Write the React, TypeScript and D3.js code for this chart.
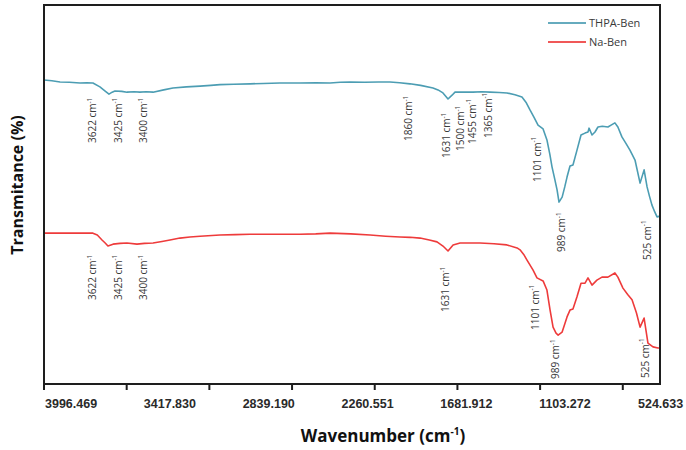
import React from "react";
import * as d3 from "d3";

// FTIR spectra: [wavenumber (cm-1), transmittance (%)]
const thpaBen: [number, number][] = [
  [3935, 80.2], [3890, 80.0], [3843, 79.7], [3790, 79.6], [3729, 79.4], [3690, 79.5],
  [3655, 79.4], [3615, 78.4], [3585, 77.3], [3563, 76.5], [3545, 77.0], [3529, 77.3],
  [3490, 77.2], [3460, 77.0], [3420, 77.1], [3386, 77.0], [3350, 77.1], [3311, 77.0],
  [3250, 77.6], [3197, 78.1], [3120, 78.4], [3042, 78.6], [2980, 78.8], [2928, 79.0],
  [2850, 79.1], [2756, 79.2], [2680, 79.3], [2585, 79.4], [2470, 79.4], [2380, 79.5],
  [2298, 79.4], [2240, 79.6], [2184, 79.7], [2100, 79.6], [2020, 79.7], [1955, 79.7],
  [1900, 79.5], [1841, 79.2], [1780, 78.8], [1709, 78.1], [1680, 77.6], [1652, 76.8],
  [1623, 75.2], [1600, 76.2], [1583, 77.0], [1530, 77.0], [1480, 77.0], [1430, 77.1],
  [1383, 77.0], [1330, 76.9], [1286, 76.8], [1240, 76.3], [1200, 75.7], [1175, 74.2],
  [1154, 72.3], [1130, 70.3], [1108, 68.3], [1079, 67.3], [1057, 64.4], [1040, 60.5],
  [1028, 57.3], [1012, 54.0], [999, 51.2], [988, 48.0], [970, 49.3], [955, 52.0],
  [942, 54.6], [925, 57.5], [908, 57.8], [885, 61.7], [862, 65.7], [839, 66.2],
  [822, 66.5], [816, 67.5], [799, 65.7], [782, 66.5], [765, 67.8], [740, 68.0],
  [708, 67.8], [690, 68.3], [668, 68.9], [651, 67.8], [628, 65.2], [605, 63.5],
  [582, 61.7], [553, 59.1], [524, 53.0], [501, 56.5], [484, 52.0], [470, 49.5],
  [456, 47.2], [440, 45.4], [427, 44.1], [410, 44.3],
];

const naBen: [number, number][] = [
  [3935, 39.8], [3850, 39.8], [3760, 39.8], [3700, 39.8], [3655, 39.8], [3630, 39.3],
  [3603, 38.0], [3585, 37.2], [3569, 36.4], [3540, 36.9], [3500, 37.1], [3460, 37.2],
  [3403, 36.9], [3360, 37.1], [3311, 37.2], [3260, 37.6], [3214, 38.0], [3157, 38.5],
  [3100, 38.8], [3042, 39.0], [2928, 39.3], [2840, 39.4], [2756, 39.5], [2600, 39.5],
  [2470, 39.5], [2380, 39.6], [2298, 39.8], [2180, 39.6], [2069, 39.3], [1980, 39.0],
  [1898, 38.8], [1840, 38.7], [1783, 38.5], [1730, 38.0], [1686, 37.5], [1652, 36.4],
  [1623, 35.1], [1594, 36.7], [1554, 37.2], [1500, 37.2], [1440, 37.2], [1360, 37.0],
  [1286, 36.7], [1228, 35.9], [1211, 35.4], [1190, 34.2], [1171, 32.7], [1137, 30.1],
  [1114, 28.0], [1079, 27.2], [1057, 24.8], [1039, 19.5], [1022, 15.0], [1005, 13.4],
  [993, 12.9], [970, 13.7], [955, 15.8], [942, 17.7], [925, 19.5], [908, 19.8],
  [885, 23.0], [862, 26.6], [839, 26.6], [822, 28.0], [799, 26.1], [771, 27.4],
  [742, 28.2], [708, 28.2], [668, 29.3], [651, 28.2], [622, 25.3], [595, 23.6],
  [570, 22.2], [545, 18.8], [524, 15.0], [501, 17.4], [479, 10.8], [450, 9.8],
  [422, 9.5], [410, 9.5],
];

const xTickLabels = ["3996.469", "3417.830", "2839.190", "2260.551", "1681.912", "1103.272", "524.633"];
const seriesNames = ["THPA-Ben", "Na-Ben"];
const seriesColors = ["#4c9db3", "#ee3b3b"];

// Peak labels for each spectrum (wavenumbers in cm-1)
const thpaPeaks = [3622, 3425, 3400, 1860, 1631, 1500, 1455, 1365, 1101, 989, 525];
const naPeaks = [3622, 3425, 3400, 1631, 1101, 989, 525];

// Label placement: horizontal nudge from the peak position and the pixel row where each rotated label starts
const thpaLabelLayout = [
  { dx: -6, y0: 143 }, { dx: -15, y0: 143 }, { dx: 6, y0: 143 }, { dx: 2, y0: 141 },
  { dx: 0, y0: 158 }, { dx: -9, y0: 151 }, { dx: -5, y0: 144 }, { dx: -5, y0: 138 },
  { dx: -2, y0: 182 }, { dx: 3, y0: 252 }, { dx: 7, y0: 260 },
];
const naLabelLayout = [
  { dx: -6, y0: 300 }, { dx: -15, y0: 300 }, { dx: 6, y0: 300 }, { dx: -1, y0: 312 },
  { dx: -4, y0: 330 }, { dx: -3, y0: 379 }, { dx: 5, y0: 378 },
];

const W = 686;
const H = 450;
const plot = { left: 44, right: 660, top: 5, bottom: 384 };

export default function App() {
  const x = d3.scaleLinear().domain([3935, 410]).range([plot.left, plot.right]);
  const y = d3.scaleLinear().domain([0, 100]).range([plot.bottom, plot.top]);
  const line = d3
    .line<[number, number]>()
    .x((d) => x(d[0]))
    .y((d) => y(d[1]));

  // Tick marks every 82.7 px along the bottom axis; labels every 98.8 px
  const tickScale = d3.scaleLinear().domain([0, 7.45]).range([plot.left, plot.right]);
  const ticks = d3.range(8).map((i) => tickScale(i));
  const labelScale = d3.scalePoint<string>().domain(xTickLabels).range([plot.left + 1, 638]);

  const annFont = "'Open Sans', 'DejaVu Sans', sans-serif";

  const renderPeaks = (peaks: number[], layout: { dx: number; y0: number }[], key: string) =>
    peaks.map((wn, i) => {
      const cx = x(wn) + layout[i].dx;
      return (
        <text
          key={`${key}-${i}`}
          transform={`translate(${cx + 3.6},${layout[i].y0}) rotate(-90)`}
          fontSize={10}
          fontFamily={annFont}
          fill="#3a3a3a"
        >
          {`${wn} cm`}
          <tspan fontSize={6.5} dy={-4.5}>
            -1
          </tspan>
        </text>
      );
    });

  return (
    <svg
      width={W}
      height={H}
      viewBox={`0 0 ${W} ${H}`}
      style={{ position: "absolute", left: 0, top: 0, background: "#fff" }}
    >
      <rect x={0} y={0} width={W} height={H} fill="#fff" />

      {/* spectra */}
      <path d={line(thpaBen) ?? ""} fill="none" stroke={seriesColors[0]} strokeWidth={1.6} strokeLinejoin="round" />
      <path d={line(naBen) ?? ""} fill="none" stroke={seriesColors[1]} strokeWidth={1.6} strokeLinejoin="round" />

      {/* frame */}
      <rect
        x={plot.left}
        y={plot.top}
        width={plot.right - plot.left}
        height={plot.bottom - plot.top}
        fill="none"
        stroke="#1e1e1e"
        strokeWidth={2}
      />

      {/* x ticks */}
      {ticks.map((t, i) => (
        <line key={i} x1={t} x2={t} y1={plot.bottom} y2={plot.bottom + 6} stroke="#1e1e1e" strokeWidth={2} />
      ))}
      {xTickLabels.map((lab) => (
        <text
          key={lab}
          x={labelScale(lab)}
          y={408}
          fontSize={12.5}
          fontWeight="bold"
          fontFamily="'Liberation Sans', Arial, sans-serif"
          fill="#2a2a2a"
        >
          {lab}
        </text>
      ))}

      {/* axis titles */}
      <text
        x={383}
        y={442}
        textAnchor="middle"
        fontSize={17}
        fontWeight="bold"
        fontFamily="'Open Sans', 'Liberation Sans', sans-serif"
        fill="#111"
      >
        Wavenumber (cm
        <tspan fontSize={10} dy={-7}>
          -1
        </tspan>
        <tspan dy={7}>)</tspan>
      </text>
      <text
        transform={`translate(23,185) rotate(-90)`}
        textAnchor="middle"
        fontSize={16}
        fontWeight="bold"
        fontFamily="'Open Sans', 'Liberation Sans', sans-serif"
        fill="#111"
      >
        Transmitance (%)
      </text>

      {/* peak labels */}
      {renderPeaks(thpaPeaks, thpaLabelLayout, "t")}
      {renderPeaks(naPeaks, naLabelLayout, "n")}

      {/* legend */}
      {seriesNames.map((name, i) => (
        <g key={name} transform={`translate(548,${23 + i * 19})`}>
          <line x1={0} x2={38} y1={0} y2={0} stroke={seriesColors[i]} strokeWidth={2} opacity={0.85} />
          <text x={41} y={4} fontSize={11} fontFamily={annFont} fill="#3a3a3a">
            {name}
          </text>
        </g>
      ))}
    </svg>
  );
}
